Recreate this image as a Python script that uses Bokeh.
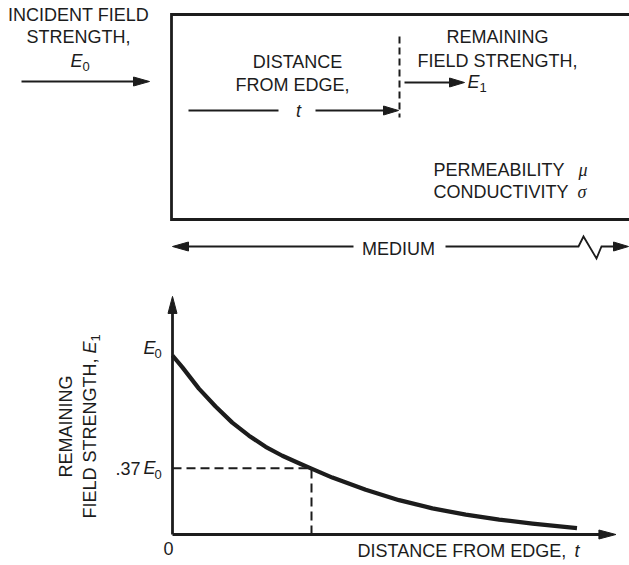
import math
from bokeh.plotting import figure
from bokeh.models import Range1d
from bokeh.core.properties import value
from bokeh.embed import file_html
from bokeh.resources import INLINE

# ---------------- data ----------------
# distance from edge, in units of the depth where the field falls to .37 E0
t_vals = [0.0, 0.07, 0.13, 0.19, 0.31, 0.43, 0.55, 0.67, 0.79, 0.91, 1.0,
          1.15, 1.39, 1.63, 1.87, 2.11, 2.35, 2.59, 2.91]
# remaining field strength E1 / E0
e_vals = [1.0, 0.935, 0.875, 0.815, 0.715, 0.625, 0.552, 0.49, 0.44, 0.398, 0.368,
          0.318, 0.25, 0.192, 0.146, 0.111, 0.083, 0.061, 0.036]
ref_level = 0.37          # .37 E0
ref_depth = 1.0           # t where E1 = .37 E0
tick_levels = [1.0, 0.37]
tick_prefix = ["", ".37"]
tick_sub = ["0", "0"]
t_axis_end = 3.19
e_axis_end = 1.33

# ---------------- layout ----------------
W, H = 629, 565
X0, Y0 = 0, 0
ORG_X, ORG_Y = 172, 534      # graph origin in the picture
PX_T, PX_E = 139.0, 179.0    # pixels per unit of t and E
BL = 0.38                    # baseline correction (em)

INK = "#1c1c1c"
SANS = value("Liberation Sans")
SERIF = value("Liberation Serif")

p = figure(width=W, height=H, x_range=Range1d(X0, X0 + W), y_range=Range1d(Y0 + H, Y0),
           output_backend="svg", toolbar_location=None, min_border=0,
           x_axis_location=None, y_axis_location=None)
p.outline_line_color = None
p.grid.visible = False
p.background_fill_color = "white"
p.border_fill_color = "white"
p.extra_x_ranges = {"t": Range1d((X0 - ORG_X) / PX_T, (X0 + W - ORG_X) / PX_T)}
p.extra_y_ranges = {"E": Range1d((ORG_Y - (Y0 + H)) / PX_E, (ORG_Y - Y0) / PX_E)}


def head(tip_x, tip_y, dx, dy, length=16, half=4.5):
    bx, by = tip_x - dx * length, tip_y - dy * length
    nx, ny = -dy, dx
    p.patch([tip_x, bx + nx * half, bx - nx * half], [tip_y, by + ny * half, by - ny * half],
            fill_color=INK, line_color=INK, line_width=1)


def txt(x, y, s, align="left", font=SANS, size=18, style="normal", angle=0.0):
    if angle:
        x = x - BL * size
    else:
        y = y - BL * size
    p.text(x=[x], y=[y], text=[s], text_font=font, text_font_size=value(f"{size}px"),
           text_font_style=style, text_align=align, text_baseline="alphabetic",
           text_color=INK, angle=angle)


def gtxt(t, e, s, dx, dy, align="left", size=18, style="normal"):
    p.text(x=[t], y=[e], text=[s], text_font=SANS, text_font_size=value(f"{size}px"),
           text_font_style=style, text_align=align, text_baseline="alphabetic",
           text_color=INK, x_offset=dx, y_offset=dy - BL * size,
           x_range_name="t", y_range_name="E")


# ---------------- top schematic ----------------
box_x = [X0 + W, 171, 171, X0 + W]
box_y = [14, 14, 219, 219]
p.line(box_x, box_y, line_color=INK, line_width=2.8, line_join="miter")

# incident field
txt(78, 21, "INCIDENT FIELD", align="center")
txt(78, 43, "STRENGTH,", align="center")
txt(82, 67, "E", align="right", style="italic")
txt(82, 71, "0", size=13)
p.line([21, 134], [81, 81], line_color=INK, line_width=2)
head(149, 81, 1, 0)

# distance from edge
txt(297, 68, "DISTANCE", align="center")
txt(292, 91, "FROM EDGE,", align="center")
txt(298, 117, "t", align="center", style="italic")
p.line([188, 278], [110, 110], line_color=INK, line_width=1.8)
p.line([315, 384], [110, 110], line_color=INK, line_width=1.8)
head(398, 110, 1, 0, length=15, half=4.5)
p.line([399, 399], [36, 117], line_color=INK, line_width=2, line_dash="7 4")

# remaining field
txt(497, 43, "REMAINING", align="center")
txt(497, 67, "FIELD STRENGTH,", align="center")
p.line([404, 450], [82, 82], line_color=INK, line_width=1.8)
head(464, 82, 1, 0, length=15, half=4.5)
txt(479, 88, "E", align="right", style="italic")
txt(479, 92, "1", size=13)

# material properties
txt(433, 176, "PERMEABILITY")
txt(578, 176, "μ", font=SERIF, style="italic")
txt(433, 198, "CONDUCTIVITY")
txt(577, 198, "σ", font=SERIF, style="italic")

# medium arrow
txt(398, 255, "MEDIUM", align="center")
p.line([186, 353], [246, 246], line_color=INK, line_width=1.8)
head(172, 246, -1, 0)
p.line([445, 578, 583, 596, 601, 614], [246, 246, 236, 258, 246, 246],
       line_color=INK, line_width=1.8, line_join="miter")
head(628, 246, 1, 0, length=15)

# ---------------- lower graph (data ranges) ----------------
R = dict(x_range_name="t", y_range_name="E")
p.line([0, 0], [0, e_axis_end - 14 / PX_E], line_color=INK, line_width=2.8, **R)
p.line([0, t_axis_end - 14 / PX_T], [0, 0], line_color=INK, line_width=2.8, **R)
head(ORG_X, ORG_Y - e_axis_end * PX_E, 0, -1, length=17, half=4.5)
head(ORG_X + t_axis_end * PX_T, ORG_Y, 1, 0, length=17, half=4.5)

p.line([0, ref_depth], [ref_level, ref_level], line_color=INK, line_width=2,
       line_dash="9 5", **R)
p.line([ref_depth, ref_depth], [0, ref_level], line_color=INK, line_width=2,
       line_dash="9 5", **R)
p.line(t_vals, e_vals, line_color=INK, line_width=4.2, line_join="round", **R)

# tick labels
tick_dy = [-1, 7]
for lvl, pre, sub, dy in zip(tick_levels, tick_prefix, tick_sub, tick_dy):
    gtxt(0, lvl, "E", -17, dy, align="right", style="italic")
    gtxt(0, lvl, sub, -18, dy + 4, size=13)
    if pre:
        gtxt(0, lvl, pre, -32, dy, align="right")
gtxt(0, 0, "0", -4, 21, align="center")

# axis titles
txt(357, 557, "DISTANCE FROM EDGE, ")
txt(574, 557, "t", style="italic")
txt(72, 426, "REMAINING", align="center", angle=math.pi / 2)
txt(96, 518, "FIELD STRENGTH, ", angle=math.pi / 2)
txt(96, 353, "E", style="italic", angle=math.pi / 2)
txt(100, 341, "1", size=13, angle=math.pi / 2)

open("out.html", "w").write(file_html(p, INLINE))
